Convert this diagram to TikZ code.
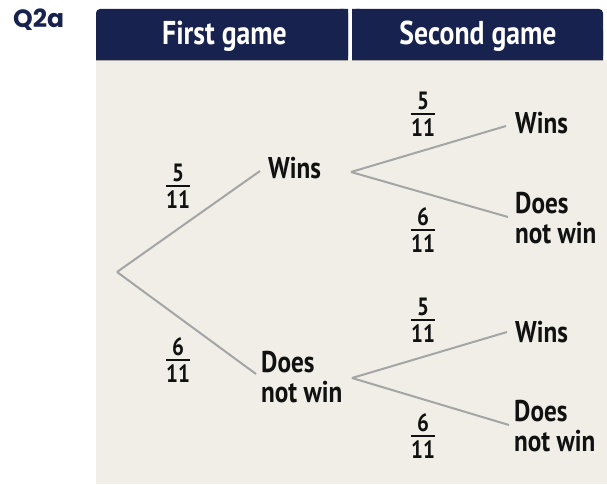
\documentclass[tikz,border=0pt]{standalone}
\usepackage{fontspec}
\setmainfont{PT Sans}[FakeStretch=0.84]
\newfontfamily\qfont{Poppins}
\definecolor{navy}{HTML}{18224F}
\definecolor{panel}{HTML}{F1EEE8}
\definecolor{branch}{HTML}{A5A5A5}
\definecolor{ink}{HTML}{111111}
\newcommand\fr[2]{\vbox{\halign{\hfil##\hfil\cr #1\cr\noalign{\kern3pt\hrule height 2pt\kern4pt}#2\cr}}}
\tikzset{
  headtxt/.style={font=\fontsize{33}{36}\selectfont\bfseries, text=white, inner sep=0pt, anchor=base},
  lbl/.style={font=\fontsize{30}{30}\selectfont\bfseries, text=ink, inner sep=0pt, anchor=base west},
  frac/.style={font=\fontsize{25}{27}\selectfont\bfseries, text=ink, inner sep=0pt},
  branchline/.style={draw=branch, line width=2pt}
}
\begin{document}
\begin{tikzpicture}[x=1pt,y=-1pt]
\useasboundingbox (0,0) rectangle (607,484);
% panel
\fill[panel] (96,60) rectangle (607,484);
% header cells
\fill[navy, rounded corners=4pt] (96,9) rectangle (348,60);
\fill[navy] (96,30) rectangle (348,60) (340,9) rectangle (348,60);
\fill[navy, rounded corners=4pt] (352,9) rectangle (603,60);
\fill[navy] (352,30) rectangle (603,60) (352,9) rectangle (360,60);
\draw[gray!70, line width=0.8pt] (96,60.4) -- (348,60.4) (352,60.4) -- (603,60.4);
\node[headtxt] (h1) at (224.5,45) {First game};
\node[headtxt] (h2) at (478,45) {Second game};
% question label
\node[font=\qfont\fontsize{25}{27}\selectfont\bfseries, text=navy, inner sep=0pt, anchor=base west] (q) at (13,28) {Q2a};
% tree
\coordinate (root) at (117,272);
\coordinate (s1) at (351,172);
\coordinate (s2) at (352,378);
\node[lbl] (w1) at (268,178) {Wins};
\node[lbl] (d1) at (261,372) {\begin{tabular}[t]{@{}l@{}}Does\\not win\end{tabular}};
\node[lbl] (w2) at (515,133) {Wins};
\node[lbl] (d2) at (515,213) {\begin{tabular}[t]{@{}l@{}}Does\\not win\end{tabular}};
\node[lbl] (w3) at (515,342) {Wins};
\node[lbl] (d3) at (514,421) {\begin{tabular}[t]{@{}l@{}}Does\\not win\end{tabular}};
\draw[branchline] (root) -- ([xshift=-8pt,yshift=7pt]w1.base west);
\draw[branchline] (root) -- ([xshift=-5pt,yshift=-2pt]d1.base west);
\draw[branchline] (s1) -- ([xshift=-9pt,yshift=7pt]w2.base west);
\draw[branchline] (s1) -- ([xshift=-7pt,yshift=-4pt]d2.base west);
\draw[branchline] (s2) -- ([xshift=-8pt,yshift=10pt]w3.base west);
\draw[branchline] (s2) -- ([xshift=-5pt,yshift=-4pt]d3.base west);
% probabilities
\node[frac] (f1) at (178,186) {\fr{5}{11}};
\node[frac] (f2) at (178,360) {\fr{6}{11}};
\node[frac] (f3) at (423,114) {\fr{5}{11}};
\node[frac] (f4) at (423,230) {\fr{6}{11}};
\node[frac] (f5) at (423,320) {\fr{5}{11}};
\node[frac] (f6) at (423,436) {\fr{6}{11}};
\end{tikzpicture}
\end{document}
